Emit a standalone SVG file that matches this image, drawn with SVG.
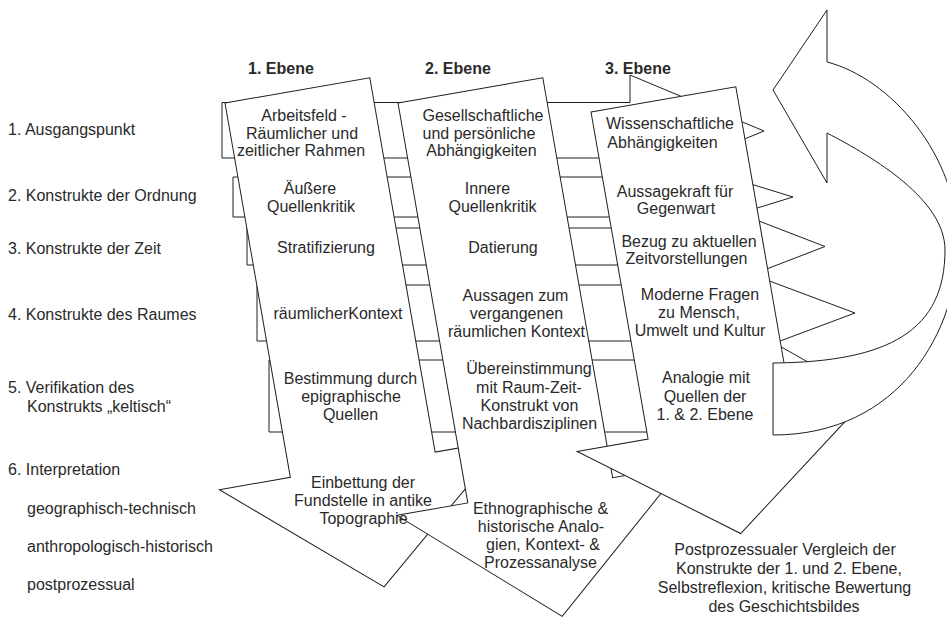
<svg xmlns="http://www.w3.org/2000/svg" width="947" height="618" viewBox="0 0 947 618">
<style>
.s{fill:#fff;stroke:#1e1e1e;stroke-width:1;stroke-linejoin:miter}
text{font-family:"Liberation Sans",Arial,sans-serif;font-size:16px;fill:#2a2a2a}
.c{text-anchor:middle}
.b{font-weight:bold}
</style>
<rect width="947" height="618" fill="#fff"/>
<g id="row-labels">
<text x="8" y="135">1. Ausgangspunkt</text>
<text x="8" y="201">2. Konstrukte der Ordnung</text>
<text x="8" y="254">3. Konstrukte der Zeit</text>
<text x="8" y="320">4. Konstrukte des Raumes</text>
<text x="8" y="393">5. Verifikation des</text>
<text x="27" y="412">Konstrukts „keltisch“</text>
<text x="8" y="475">6. Interpretation</text>
<text x="27" y="514">geographisch-technisch</text>
<text x="27" y="552">anthropologisch-historisch</text>
<text x="27" y="590">postprozessual</text>
</g>
<g id="connectors">
<polygon class="s" points="222,102.5 630,102.5 630,75 764,131 630,186 630,158 222,158"/>
<polygon class="s" points="233,177 700,177 700,168.4 793,197 700,225.6 700,217 233,217"/>
<polygon class="s" points="247,228 720,228 720,206 825,246.5 720,287 720,265 247,265"/>
<polygon class="s" points="257,285 740,285 740,270 855,313 740,356 740,341 257,341"/>
<polygon class="s" points="269,360 770,360 770,340.6 868,396 770,451.4 770,432 269,432"/>
</g>
<g id="ebene1">
<polygon class="s" transform="translate(225,103) rotate(-9.9)" points="0,0 147,0 147,380 219,380 73.5,504 -72,380 0,380"/>
</g>
<g id="ebene2">
<polygon class="s" transform="translate(398,103) rotate(-9.9)" points="0,0 147,0 147,406 219,406 73.5,534 -72,406 0,406"/>
</g>
<g id="ebene3">
<polygon class="s" transform="translate(591,112) rotate(-9.9)" points="0,0 147,0 147,332 219,332 75,441 -72,332 0,332"/>
</g>
<g id="rueckkopplung">
<path class="s" d="M827,62 L827,10 L773,90 L827,183 L827,133 C875,158 945,200 945,250 C945,330 890,362 773,363 L773,435 C900,435 958,330 958,243 C958,155 890,78 827,62 Z"/>
</g>
<g id="ebene-titles" class="b">
<text x="248" y="74" class="b">1. Ebene</text>
<text x="425" y="74" class="b">2. Ebene</text>
<text x="605" y="74" class="b">3. Ebene</text>
</g>
<g id="ebene1-text" class="c">
<text class="c" x="304" y="121">Arbeitsfeld -</text>
<text class="c" x="302" y="138.5">Räumlicher und</text>
<text class="c" x="301" y="156">zeitlicher Rahmen</text>
<text class="c" x="310" y="194">Äußere</text>
<text class="c" x="311" y="212">Quellenkritik</text>
<text class="c" x="326" y="253">Stratifizierung</text>
<text class="c" x="338" y="319">räumlicherKontext</text>
<text class="c" x="350.5" y="384">Bestimmung durch</text>
<text class="c" x="351" y="402">epigraphische</text>
<text class="c" x="350.5" y="420">Quellen</text>
<text class="c" x="363" y="488">Einbettung der</text>
<text class="c" x="363" y="506">Fundstelle in antike</text>
<text class="c" x="363.5" y="524">Topographie</text>
</g>
<g id="ebene2-text">
<text class="c" x="483" y="121">Gesellschaftliche</text>
<text class="c" x="479" y="138.5">und persönliche</text>
<text class="c" x="481.5" y="156">Abhängigkeiten</text>
<text class="c" x="487.5" y="194">Innere</text>
<text class="c" x="492.5" y="212">Quellenkritik</text>
<text class="c" x="503" y="253">Datierung</text>
<text class="c" x="515.5" y="301">Aussagen zum</text>
<text class="c" x="516.5" y="319">vergangenen</text>
<text class="c" x="516.5" y="337">räumlichen Kontext</text>
<text class="c" x="529" y="374">Übereinstimmung</text>
<text class="c" x="529" y="393">mit Raum-Zeit-</text>
<text class="c" x="529.5" y="411">Konstrukt von</text>
<text class="c" x="529.5" y="429">Nachbardisziplinen</text>
<text class="c" x="540.5" y="514">Ethnographische &amp;</text>
<text class="c" x="541" y="532">historische Analo-</text>
<text class="c" x="543" y="550">gien, Kontext- &amp;</text>
<text class="c" x="540.5" y="568">Prozessanalyse</text>
</g>
<g id="ebene3-text">
<text class="c" x="670" y="129">Wissenschaftliche</text>
<text class="c" x="662.5" y="147.5">Abhängigkeiten</text>
<text class="c" x="675" y="196.5">Aussagekraft für</text>
<text class="c" x="676" y="213.5">Gegenwart</text>
<text class="c" x="689" y="246.5">Bezug zu aktuellen</text>
<text class="c" x="686.5" y="264">Zeitvorstellungen</text>
<text class="c" x="700" y="299.5">Moderne Fragen</text>
<text class="c" x="699" y="317.5">zu Mensch,</text>
<text class="c" x="700" y="336">Umwelt und Kultur</text>
<text class="c" x="706" y="383">Analogie mit</text>
<text class="c" x="705" y="401.5">Quellen der</text>
<text class="c" x="705" y="420">1. &amp; 2. Ebene</text>
</g>
<g id="postprozessual-text">
<text class="c" x="785" y="555">Postprozessualer Vergleich der</text>
<text class="c" x="789" y="574">Konstrukte der 1. und 2. Ebene,</text>
<text class="c" x="784.5" y="593">Selbstreflexion, kritische Bewertung</text>
<text class="c" x="784" y="611.5">des Geschichtsbildes</text>
</g>
</svg>
